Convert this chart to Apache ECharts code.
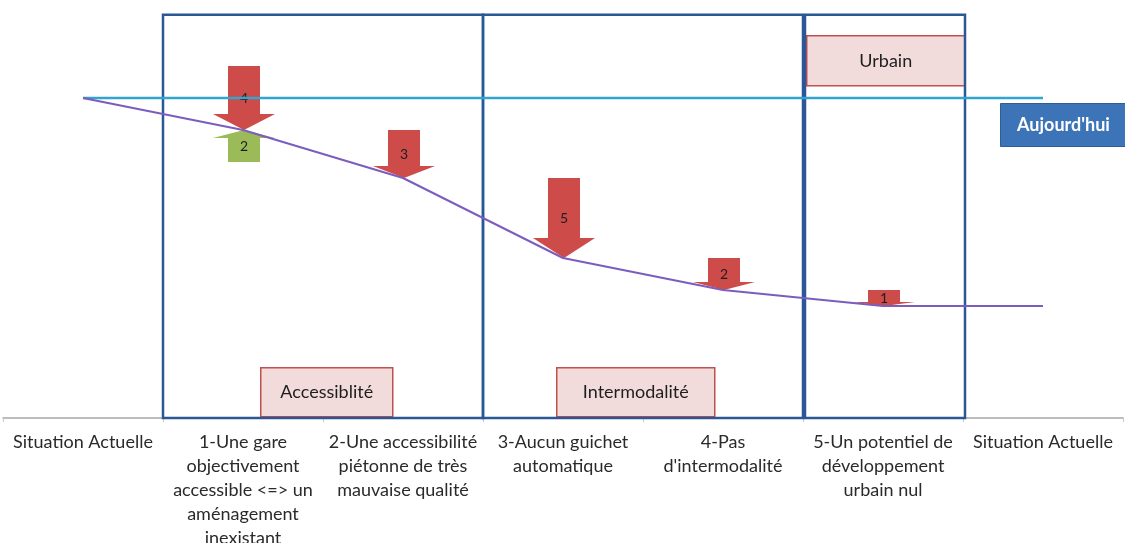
<!DOCTYPE html>
<html>
<head>
<meta charset="utf-8">
<script src="https://cdn.jsdelivr.net/npm/echarts@6/dist/echarts.min.js"></script>
<style>
  html, body { margin: 0; padding: 0; background: #ffffff; }
  #chart { width: 1125px; height: 543px; }
</style>
</head>
<body>
<div id="chart"></div>
<script>
// Steps of the diagnostic, left to right
const categories = [
  'Situation Actuelle',
  '1-Une gare\nobjectivement\naccessible <=> un\naménagement\ninexistant',
  '2-Une accessibilité\npiétonne de très\nmauvaise qualité',
  '3-Aucun guichet\nautomatique',
  '4-Pas\nd\'intermodalité',
  '5-Un potentiel de\ndéveloppement\nurbain nul',
  'Situation Actuelle'
];

// Score after each step (purple line)
const scoreLevels = [20, 18, 15, 10, 8, 7, 7];
// Today's reference level (cyan line)
const todayLevels = [20, 20, 20, 20, 20, 20, 20];
// Points lost at each step (red arrows)
const penalties = [null, 4, 3, 5, 2, 1, null];
// Points gained at each step (green arrows)
const bonuses = [null, 2, null, null, null, null, null];

// Thematic groups of steps (first and last step index)
const groupNames = ['Accessiblité', 'Intermodalité', 'Urbain'];
const groupFirst = [1, 3, 5];
const groupLast = [2, 4, 5];

const FONT = 'Lato, "Open Sans", sans-serif';

// Arrow marks: [stepIndex, startValue, endValue, label, kind]
const arrowData = [];
bonuses.forEach((b, i) => {
  if (b != null) arrowData.push([i, scoreLevels[i] - b, scoreLevels[i], String(b), 'gain']);
});
penalties.forEach((p, i) => {
  if (p != null) arrowData.push([i, scoreLevels[i] + p, scoreLevels[i], String(p), 'loss']);
});

const groupData = groupNames.map((n, k) => [groupFirst[k], groupLast[k], 25.2, n]);

function renderArrow(params, api) {
  const idx = api.value(0);
  const start = api.coord([idx, api.value(1)]);
  const end = api.coord([idx, api.value(2)]);
  const kind = arrowData[params.dataIndex][4];
  const label = arrowData[params.dataIndex][3];
  const cx = start[0] + 1;
  const y0 = start[1];
  const y1 = end[1];
  const len = Math.abs(y1 - y0);
  const dir = y1 > y0 ? 1 : -1;
  const headH = Math.min(20, len * 0.25);
  const sh = 16, hh = 31;
  const yh = y1 - dir * headH;
  const pts = [
    [cx - sh, y0], [cx + sh, y0], [cx + sh, yh], [cx + hh, yh],
    [cx, y1], [cx - hh, yh], [cx - sh, yh]
  ];
  return {
    type: 'group',
    children: [
      {
        type: 'polygon',
        shape: { points: pts },
        style: { fill: kind === 'loss' ? '#cd4b48' : '#9bbb59' }
      },
      {
        type: 'text',
        style: {
          text: label,
          x: cx, y: (y0 + y1) / 2,
          align: 'center', verticalAlign: 'middle',
          fill: '#1e1e1e', font: '14px ' + FONT
        }
      }
    ]
  };
}

function renderGroup(params, api) {
  const a = api.coord([api.value(0), api.value(2)]);
  const b = api.coord([api.value(1), 0]);
  const bw = api.size([1, 0])[0];
  // the last frame sits a touch to the right of its band
  const shift = params.dataIndex === groupData.length - 1 ? 2 : 0;
  const x0 = a[0] - bw / 2 + shift;
  const x1 = b[0] + bw / 2 + shift;
  return {
    type: 'rect',
    shape: { x: x0, y: a[1], width: x1 - x0, height: b[1] - a[1] },
    style: { fill: 'none', stroke: '#2b5797', lineWidth: 2.5 }
  };
}

const chart = echarts.init(document.getElementById('chart'));

function tag(text, left, top, w, h) {
  return {
    type: 'group', left: left, top: top, z: 10,
    children: [
      { type: 'rect', shape: { x: 0, y: 0, width: w, height: h },
        style: { fill: '#f2dcdb', stroke: '#c0504d', lineWidth: 1.5 } },
      { type: 'text', style: { text: text, x: w / 2, y: h / 2, align: 'center', verticalAlign: 'middle',
        fill: '#1e1e1e', font: '18px ' + FONT } }
    ]
  };
}

chart.setOption({
  animation: false,
  backgroundColor: '#ffffff',
  grid: { left: 3, right: 2, top: 2, bottom: 125, containLabel: false, outerBoundsMode: 'none' },
  xAxis: {
    type: 'category',
    data: categories,
    boundaryGap: true,
    axisLine: { lineStyle: { color: '#a6a6a6', width: 1.5 } },
    axisTick: { show: true, length: 4, lineStyle: { color: '#c8c8c8' } },
    axisLabel: {
      interval: 0,
      margin: 12,
      color: '#2a2a2a',
      fontFamily: FONT,
      fontSize: 18,
      lineHeight: 24,
      align: 'center'
    }
  },
  yAxis: {
    type: 'value', min: 0, max: 26,
    show: false, splitLine: { show: false }
  },
  series: [
    {
      name: 'groups', type: 'custom', z: 1,
      renderItem: renderGroup, data: groupData, silent: true
    },
    {
      name: 'arrows', type: 'custom', z: 2,
      renderItem: renderArrow, data: arrowData.map(d => d.slice(0, 3)), silent: true
    },
    {
      name: "Aujourd'hui", type: 'line', z: 3,
      data: todayLevels, symbol: 'none',
      lineStyle: { color: '#31a5cf', width: 2.5 }
    },
    {
      name: 'Score', type: 'line', z: 4,
      data: scoreLevels, symbol: 'none',
      lineStyle: { color: '#7b5cbf', width: 2 }
    }
  ],
  graphic: [
    tag(groupNames[0], 260, 367, 132, 49),
    tag(groupNames[1], 556, 367, 158, 49),
    tag(groupNames[2], 806, 35, 158, 50),
    {
      type: 'group', left: 1000, top: 103, z: 10,
      children: [
        { type: 'rect', shape: { x: 0, y: 0, width: 130, height: 43 },
          style: { fill: '#3d74b8', stroke: '#2f5d95', lineWidth: 1 } },
        { type: 'text', style: { text: "Aujourd'hui", x: 63, y: 22, align: 'center', verticalAlign: 'middle',
          fill: '#ffffff', font: 'bold 18px ' + FONT } }
      ]
    }
  ]
});
</script>
</body>
</html>
